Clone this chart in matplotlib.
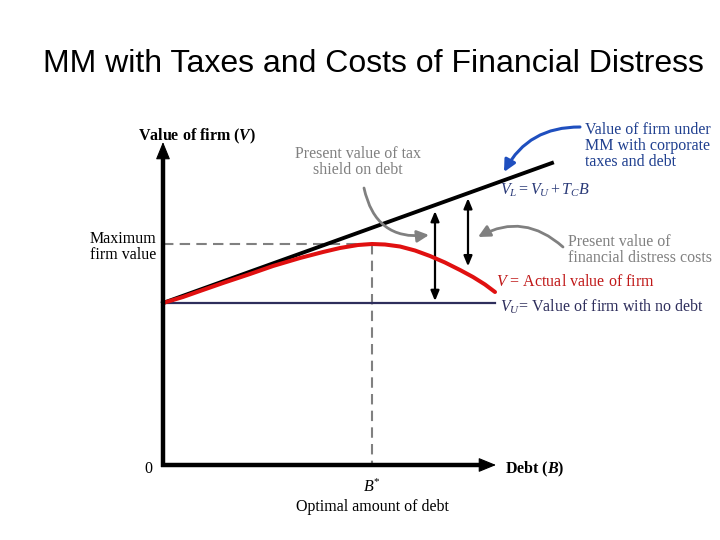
import matplotlib
matplotlib.use("Agg")
import matplotlib.pyplot as plt
import numpy as np

plt.rcParams['font.family'] = ['Liberation Serif', 'DejaVu Serif']
plt.rcParams['mathtext.fontset'] = 'custom'
plt.rcParams['mathtext.rm'] = 'Liberation Serif'
plt.rcParams['mathtext.it'] = 'Liberation Serif:italic'
plt.rcParams['mathtext.bf'] = 'Liberation Serif:bold'
plt.rcParams['mathtext.bfit'] = 'Liberation Serif:bold:italic'

# Data (arbitrary diagram units)
V_U = 162.0                 # value of unlevered firm
T_C = 0.36                  # slope of V_L line (tax shield per unit debt)
B_max_line = 389.0          # end of V_L line
B_axis_end = 332.0          # end of V_U line
debt_pts = [0, 20, 37, 60, 87, 110, 137, 160, 177, 195, 209, 222, 237, 252, 267, 282, 297, 310, 322, 332]
v_actual = [162, 168, 174, 182, 191, 199, 207, 213, 217, 220, 221, 220.5, 218.5, 214.5, 209, 202.5, 195, 188, 180.5, 173]
B_tax_arrow = 272.0
B_dist_arrow = 305.0

X0, Y0 = 163, 465  # pixel position of origin


def P(x, y):
    return (x - X0, Y0 - y)


fig = plt.figure(figsize=(7.2, 5.4), dpi=100)
ax = fig.add_axes([0, 0, 1, 1])
ax.set_xlim(-X0, 720 - X0)
ax.set_ylim(Y0 - 540, Y0)
ax.axis('off')

fig.text(373 / 720, 1 - 64 / 540, "MM with Taxes and Costs of Financial Distress",
         ha='center', va='center', fontsize=23, family='Liberation Sans')

# axes with arrow heads
ax.plot([0, 0], [-2, 312], color='black', lw=3.2, solid_capstyle='butt', zorder=5)
ax.plot([-2, 322], [0, 0], color='black', lw=3.2, solid_capstyle='butt', zorder=5)
head = dict(arrowstyle='-|>,head_length=1.1,head_width=0.45', lw=0.8, color='black',
            shrinkA=0, shrinkB=0)
ax.annotate("", xy=(0, 323), xytext=(0, 305), arrowprops=head, zorder=5)
ax.annotate("", xy=(333, 0), xytext=(315, 0), arrowprops=head, zorder=5)

# lines
b_line = np.array([0, B_max_line])
ax.plot([0, B_axis_end], [V_U, V_U], color='#2e2e5c', lw=1.6, zorder=2)
ax.plot(b_line, V_U + T_C * b_line, color='black', lw=2.8, zorder=3)
ax.plot(debt_pts, v_actual, color='#e01010', lw=2.9, zorder=4, solid_capstyle='round')

# optimum
i_max = int(np.argmax(v_actual))
b_star, v_max = debt_pts[i_max], v_actual[i_max]
ax.plot([0, b_star], [v_max, v_max], color='#808080', lw=1.5, ls=(0, (5, 3)), zorder=1)
ax.plot([b_star, b_star], [v_max, 0], color='#808080', lw=1.5, ls=(0, (5, 3)), zorder=1)

# double arrows
dbl = dict(arrowstyle='<|-|>,head_length=0.6,head_width=0.25', lw=1.6, color='black',
           shrinkA=0, shrinkB=0)
ax.annotate("", xy=(B_tax_arrow, V_U + T_C * B_tax_arrow - 6), xytext=(B_tax_arrow, V_U + 2),
            arrowprops=dbl)
v_at = np.interp(B_dist_arrow, debt_pts, v_actual)
ax.annotate("", xy=(B_dist_arrow, V_U + T_C * B_dist_arrow - 5), xytext=(B_dist_arrow, v_at + 8),
            arrowprops=dbl)

# curved arrows
ax.annotate("", xy=P(429, 235), xytext=P(364, 188),
            arrowprops=dict(arrowstyle='-|>,head_length=0.7,head_width=0.35', lw=2.0,
                            color='#808080', connectionstyle='arc3,rad=0.45',
                            shrinkA=0, shrinkB=0))
ax.annotate("", xy=P(478, 237), xytext=P(563, 247),
            arrowprops=dict(arrowstyle='-|>,head_length=0.7,head_width=0.35', lw=2.0,
                            color='#808080', connectionstyle='arc3,rad=0.35',
                            shrinkA=0, shrinkB=0))
ax.annotate("", xy=P(504, 172), xytext=P(580, 127),
            arrowprops=dict(arrowstyle='-|>,head_length=0.7,head_width=0.35', lw=2.2,
                            color='#1f4fbf', connectionstyle='arc3,rad=0.3',
                            shrinkA=0, shrinkB=0))

fs = 11.5
ls = 1.03
ax.text(*P(197, 136), r"Value of firm ($\mathbfit{V}$)", ha='center', va='center',
        fontsize=fs, fontweight='bold')
ax.text(*P(358, 162), "Present value of tax\nshield on debt", ha='center', va='center',
        fontsize=fs, color='#808080', linespacing=ls)
ax.text(*P(585, 146), "Value of firm under\nMM with corporate\ntaxes and debt", ha='left',
        va='center', fontsize=fs, color='#1f3f8f', linespacing=ls)
ax.text(*P(500, 190), r"$V_L = V_U + T_C B$", ha='left', va='center', fontsize=fs,
        color='#2a3a78')
ax.text(*P(123, 247), "Maximum\nfirm value", ha='center', va='center', fontsize=fs,
        linespacing=ls)
ax.text(*P(568, 250), "Present value of\nfinancial distress costs", ha='left', va='center',
        fontsize=fs, color='#808080', linespacing=ls)
ax.text(*P(496, 282), r"$V$ = Actual value of firm", ha='left', va='center', fontsize=fs,
        color='#c01818')
ax.text(*P(500, 307), r"$V_U$= Value of firm with no debt", ha='left', va='center',
        fontsize=fs, color='#2e2e5c')
ax.text(*P(148, 469), "0", ha='center', va='center', fontsize=fs)
ax.text(*P(505, 469), r"Debt ($\mathbfit{B}$)", ha='left', va='center', fontsize=fs,
        fontweight='bold')
ax.text(*P(372, 487), r"$B^{*}$", ha='center', va='center', fontsize=fs)
ax.text(*P(372, 507), "Optimal amount of debt", ha='center', va='center', fontsize=fs)

fig.savefig("out.png", dpi=100, facecolor='white')
